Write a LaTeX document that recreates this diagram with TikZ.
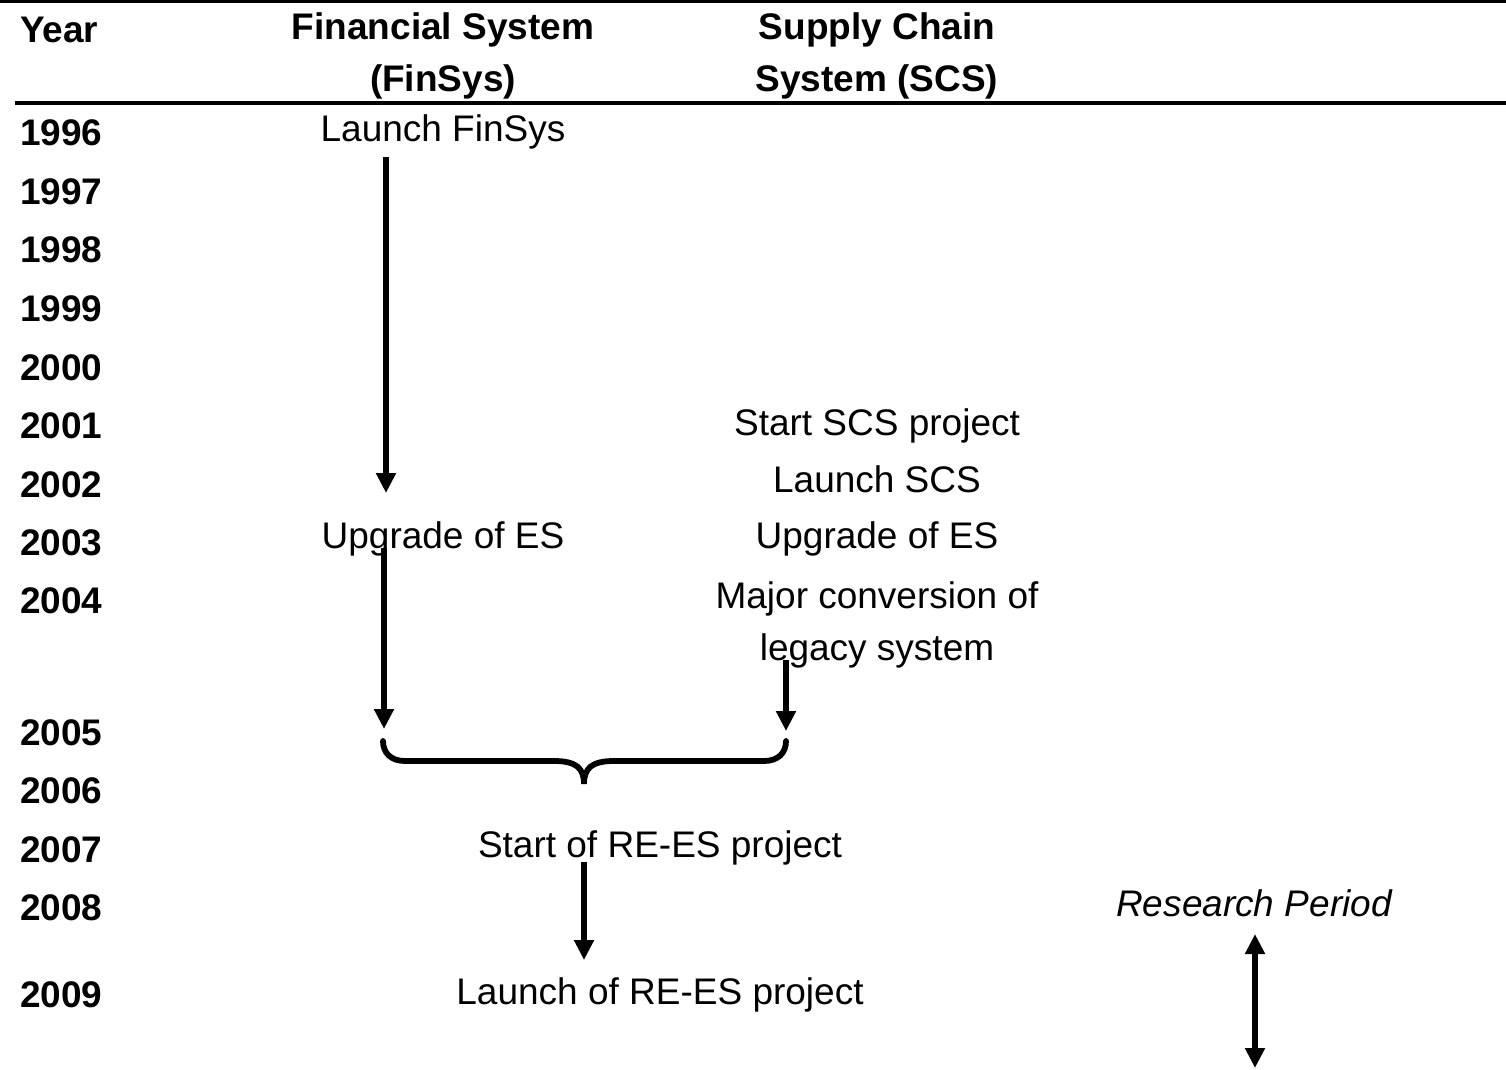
\documentclass[tikz,border=0pt]{standalone}
\usepackage{fontspec}
\setmainfont{Liberation Sans}
\usetikzlibrary{arrows.meta}
\begin{document}
\begin{tikzpicture}[x=0.5pt,y=-0.5pt,
  every node/.style={inner sep=0pt,outer sep=0pt,font=\fontsize{18.5}{22}\selectfont},
  yr/.style={anchor=base west,font=\fontsize{18.5}{22}\selectfont\bfseries},
  hd/.style={anchor=base,font=\fontsize{18.5}{22}\selectfont\bfseries},
  ev/.style={anchor=base},
  flow/.style={line width=2.9pt,-{Triangle[length=10pt,width=9.5pt]}},
  both/.style={line width=2.9pt,{Triangle[length=10pt,width=9.5pt]}-{Triangle[length=10pt,width=9.5pt]}},
  rule/.style={line width=2pt},
  bracket/.style={line width=2.9pt,line cap=round}]
\useasboundingbox (0,0) rectangle (1506,1070);

% table rules
\coordinate (r1a) at (0,1.5);
\coordinate (r1b) at (1506,1.5);
\coordinate (r2a) at (15,103);
\coordinate (r2b) at (1506,103);
\draw[rule] (r1a) -- (r1b);
\draw[rule] (r2a) -- (r2b);

% header
\node[yr] (hyear) at (20,43) {Year};
\node[hd] (hfin1) at (443,40) {Financial System};
\node[hd] (hfin2) at (443,92) {(FinSys)};
\node[hd] (hscs1) at (877,40) {Supply Chain};
\node[hd] (hscs2) at (877,92) {System (SCS)};

% years
\node[yr] (y1996) at (20,146) {1996};
\node[yr] (y1997) at (20,204.5) {1997};
\node[yr] (y1998) at (20,263) {1998};
\node[yr] (y1999) at (20,321.5) {1999};
\node[yr] (y2000) at (20,380) {2000};
\node[yr] (y2001) at (20,438.5) {2001};
\node[yr] (y2002) at (20,497) {2002};
\node[yr] (y2003) at (20,555.5) {2003};
\node[yr] (y2004) at (20,613) {2004};
\node[yr] (y2005) at (20,745) {2005};
\node[yr] (y2006) at (20,803) {2006};
\node[yr] (y2007) at (20,862) {2007};
\node[yr] (y2008) at (20,920) {2008};
\node[yr] (y2009) at (20,1007) {2009};

% events
\node[ev] (launchfin) at (443,141) {Launch FinSys};
\node[ev] (startscs) at (877,435) {Start SCS project};
\node[ev] (launchscs) at (877,492) {Launch SCS};
\node[ev] (upfin) at (443,548) {Upgrade of ES};
\node[ev] (upscs) at (877,548) {Upgrade of ES};
\node[ev] (conv1) at (877,608) {Major conversion of};
\node[ev] (conv2) at (877,660) {legacy system};
\node[ev] (startre) at (660,857) {Start of RE-ES project};
\node[ev] (launchre) at (660,1004) {Launch of RE-ES project};
\node[ev,font=\fontsize{18.5}{22}\selectfont\itshape] (research) at (1254,916) {Research Period};

% arrow end points
\coordinate (f1s) at (386,157);
\coordinate (f1e) at (386,493);
\coordinate (f2s) at (384,548);
\coordinate (f2e) at (384,729);
\coordinate (s1s) at (786,660);
\coordinate (s1e) at (786,731);
\coordinate (b1) at (383,741);
\coordinate (b2) at (786,741);
\coordinate (bm) at (584,784);
\coordinate (r1s) at (584,862);
\coordinate (r1e) at (584,960);
\coordinate (p1) at (1255,934);
\coordinate (p2) at (1255,1068);

\draw[flow] (f1s) -- (f1e);
\draw[flow] (f2s) -- (f2e);
\draw[flow] (s1s) -- (s1e);
\draw[flow] (r1s) -- (r1e);
\draw[both] (p1) -- (p2);

% curly bracket joining both systems
\draw[bracket] (b1) .. controls (383,753) and (391,761) .. (405,761)
  -- (554,761) .. controls (576,761) and (584,768) .. (bm)
  .. controls (584,768) and (592,761) .. (614,761)
  -- (764,761) .. controls (778,761) and (786,753) .. (b2);
\end{tikzpicture}
\end{document}
